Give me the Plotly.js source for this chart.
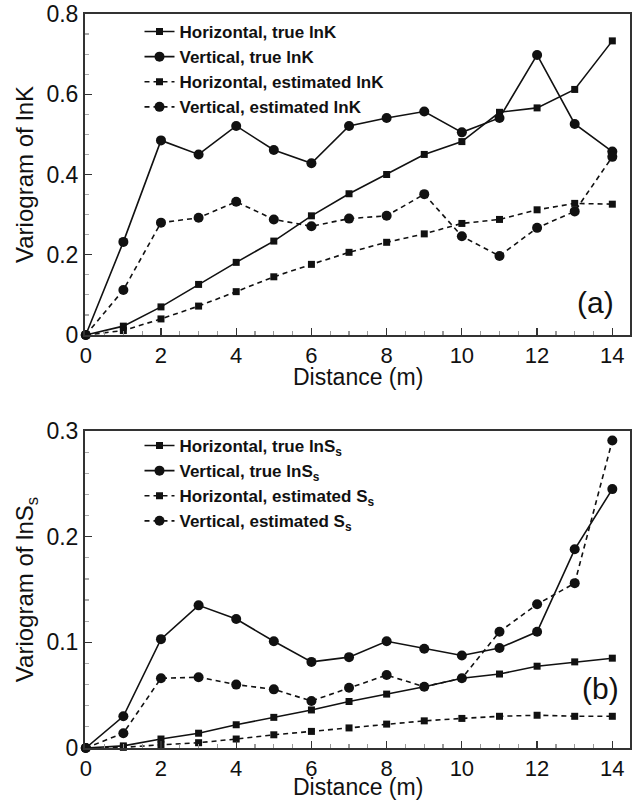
<!DOCTYPE html>
<html>
<head>
<meta charset="utf-8">
<script src="https://cdn.plot.ly/plotly-3.0.1.min.js"></script>
<style>html,body{margin:0;padding:0;background:#fff;}#chart{width:635px;height:801px;}</style>
</head>
<body>
<div id="chart"></div>
<script>
// Distance lags (m)
var distance = [0,1,2,3,4,5,6,7,8,9,10,11,12,13,14];

// Panel (a): variogram of lnK
var hTrueLnK = [0,0.022,0.070,0.126,0.181,0.234,0.297,0.352,0.400,0.450,0.482,0.555,0.566,0.612,0.733];
var vTrueLnK = [0,0.232,0.485,0.450,0.521,0.461,0.428,0.521,0.541,0.557,0.505,0.541,0.698,0.526,0.457];
var hEstLnK  = [0,0.011,0.040,0.072,0.108,0.145,0.176,0.206,0.231,0.252,0.278,0.288,0.312,0.328,0.326];
var vEstLnK  = [0,0.112,0.280,0.292,0.332,0.288,0.271,0.290,0.297,0.351,0.246,0.197,0.267,0.308,0.444];

// Panel (b): variogram of lnSs
var hTrueLnSs = [0,0.002,0.0085,0.014,0.022,0.029,0.036,0.044,0.051,0.058,0.066,0.070,0.0774,0.0815,0.085];
var vTrueLnSs = [0,0.030,0.103,0.135,0.122,0.101,0.0815,0.086,0.101,0.094,0.0875,0.0947,0.110,0.188,0.245];
var hEstSs    = [0,0.0006,0.003,0.005,0.0085,0.0125,0.0157,0.019,0.0226,0.0257,0.028,0.030,0.031,0.030,0.030];
var vEstSs    = [0,0.014,0.066,0.067,0.060,0.0555,0.0445,0.057,0.069,0.058,0.066,0.110,0.136,0.156,0.291];

var namesA = ['Horizontal, true lnK','Vertical, true lnK','Horizontal, estimated lnK','Vertical, estimated lnK'];
var namesB = ['Horizontal, true lnS<sub>s</sub>','Vertical, true lnS<sub>s</sub>','Horizontal, estimated S<sub>s</sub>','Vertical, estimated S<sub>s</sub>'];
var xTicks = [0,2,4,6,8,10,12,14];
var xTitle = 'Distance (m)';

var INK = '#111';
function tr(y, name, sym, dash, xa, ya, leg){
  return {
    x: distance, y: y, name: name, type: 'scatter', mode: 'lines+markers',
    xaxis: xa, yaxis: ya, legend: leg, cliponaxis: false,
    line: {color: INK, width: 1.6, dash: dash},
    marker: {symbol: sym, size: sym === 'circle' ? 10 : 7, color: INK}
  };
}
var DASH = '5px,4px';
var data = [
  tr(hTrueLnK, namesA[0], 'square', 'solid', 'x', 'y', 'legend'),
  tr(vTrueLnK, namesA[1], 'circle', 'solid', 'x', 'y', 'legend'),
  tr(hEstLnK,  namesA[2], 'square', DASH, 'x', 'y', 'legend'),
  tr(vEstLnK,  namesA[3], 'circle', DASH, 'x', 'y', 'legend'),
  tr(hTrueLnSs, namesB[0], 'square', 'solid', 'x2', 'y2', 'legend2'),
  tr(vTrueLnSs, namesB[1], 'circle', 'solid', 'x2', 'y2', 'legend2'),
  tr(hEstSs,    namesB[2], 'square', DASH, 'x2', 'y2', 'legend2'),
  tr(vEstSs,    namesB[3], 'circle', DASH, 'x2', 'y2', 'legend2')
];

var FONT = 'Liberation Sans, Arial, sans-serif';
function xaxis(anchor){
  return {
    anchor: anchor, range: [-0.02, 14.47], tickvals: xTicks, ticktext: xTicks.map(String),
    ticks: 'inside', ticklen: 7, tickwidth: 1.2, tickcolor: '#333',
    minor: {dtick: 0.5, ticks: 'inside', ticklen: 4, tickcolor: '#999', tick0: 0},
    showline: true, mirror: true, linewidth: 2, linecolor: '#333',
    showgrid: false, zeroline: false,
    tickfont: {family: FONT, size: 22, color: '#111'}
  };
}
function yaxis(anchor, dom, rng, vals, txt, title, minorD){
  return {
    anchor: anchor, domain: dom, range: rng, tickvals: vals, ticktext: txt,
    ticks: 'inside', ticklen: 7, tickwidth: 1.2, tickcolor: '#333',
    minor: {dtick: minorD, ticks: 'inside', ticklen: 4, tickcolor: '#aaa', tick0: 0},
    showline: true, mirror: true, linewidth: 2, linecolor: '#333',
    showgrid: false, zeroline: false,
    tickfont: {family: FONT, size: 23, color: '#111'},
    title: {text: title, font: {family: FONT, size: 24, color: '#111'}, standoff: 6}
  };
}

var layout = {
  width: 635, height: 801,
  margin: {l: 85, r: 5, t: 14, b: 53},
  paper_bgcolor: '#fff', plot_bgcolor: '#fff',
  showlegend: true,
  xaxis: xaxis('y'),
  yaxis: yaxis('x', [0.5627, 1], [0, 0.8], [0,0.2,0.4,0.6,0.8], ['0','0.2','0.4','0.6','0.8'], 'Variogram of lnK', 0.05),
  xaxis2: xaxis('y2'),
  yaxis2: yaxis('x2', [0, 0.4319], [0, 0.3], [0,0.1,0.2,0.3], ['0','0.1','0.2','0.3'], 'Variogram of lnS<sub>s</sub>', 0.02),
  legend: {
    x: 0.10, y: 1.0, xanchor: 'left', yanchor: 'top',
    bgcolor: 'rgba(0,0,0,0)', borderwidth: 0, tracegroupgap: 0,
    font: {family: FONT, size: 17, color: '#111', weight: 'bold'}
  },
  legend2: {
    x: 0.10, y: 0.436, xanchor: 'left', yanchor: 'top',
    bgcolor: 'rgba(0,0,0,0)', borderwidth: 0, tracegroupgap: 0,
    font: {family: FONT, size: 17, color: '#111', weight: 'bold'}
  },
  annotations: [
    {text: '(a)', xref: 'x domain', yref: 'y domain', x: 0.936, y: 0.10, xanchor: 'center', yanchor: 'middle',
     showarrow: false, font: {family: FONT, size: 30, color: '#111'}},
    {text: '(b)', xref: 'x2 domain', yref: 'y2 domain', x: 0.945, y: 0.187, xanchor: 'center', yanchor: 'middle',
     showarrow: false, font: {family: FONT, size: 30, color: '#111'}},
    {text: xTitle, xref: 'x domain', yref: 'paper', x: 0.5, y: 0.5054, xanchor: 'center', yanchor: 'middle',
     showarrow: false, font: {family: FONT, size: 23, color: '#111'}},
    {text: xTitle, xref: 'x2 domain', yref: 'paper', x: 0.5, y: -0.0531, xanchor: 'center', yanchor: 'middle',
     showarrow: false, font: {family: FONT, size: 23, color: '#111'}}
  ]
};

Plotly.newPlot('chart', data, layout, {displayModeBar: false, staticPlot: true});
</script>
</body>
</html>
